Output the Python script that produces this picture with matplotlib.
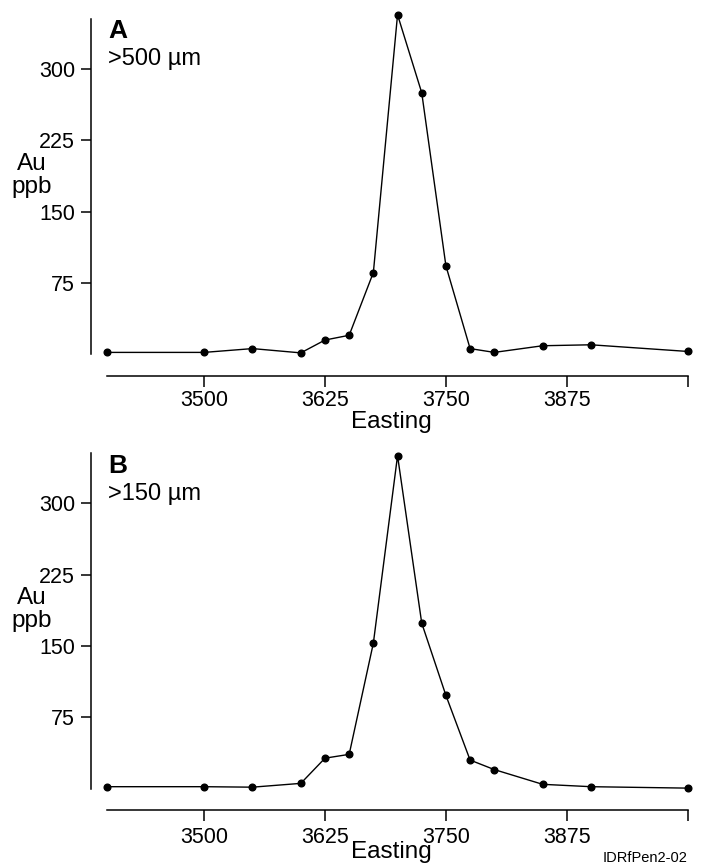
import matplotlib.pyplot as plt

# Easting stations (same for both panels)
easting = [3400, 3500, 3550, 3600, 3625, 3650, 3675, 3700, 3725, 3750, 3775, 3800, 3850, 3900, 4000]

# Au ppb, >500 um fraction (panel A)
au_500 = [2, 2, 6, 1.5, 15, 20, 86, 357, 275, 93, 6, 2, 9, 10, 3]
# Au ppb, >150 um fraction (panel B)
au_150 = [2, 2, 1.5, 5.5, 32, 36, 153, 350, 174, 98, 30, 20, 4.5, 2, 0.5]

x_ticks = [3500, 3625, 3750, 3875, 4000]
x_ticklabels = ['3500', '3625', '3750', '3875', '']
y_ticks = [75, 150, 225, 300]
y_ticklabels = ['75', '150', '225', '300']

panels = [('A', '>500 \u00b5m', au_500), ('B', '>150 \u00b5m', au_150)]

W, H = 701, 868


def fx(px):
    return px / W


def fy(py):
    return 1 - py / H


def make_plot():
    plt.rcParams['font.family'] = ['Liberation Sans', 'DejaVu Sans']

    fig = plt.figure(figsize=(W / 100, H / 100), dpi=100)

    # pixel bottom of each axes (where the x axis line sits)
    axis_bottoms = [375.7, 810]
    tick_pads = [2.0, 4.5]
    easting_baselines = [428, 858]
    ax_h = 367.6

    for (letter, frac, vals), bot, tpad, ebase in zip(panels, axis_bottoms, tick_pads, easting_baselines):
        ax = fig.add_axes([fx(91), fy(bot), (692 - 91) / W, ax_h / H])
        ax.plot(easting, vals, color='black', lw=1.0, marker='o', ms=4.8,
                clip_on=False, zorder=3)

        ax.set_xlim(3383.1, 4004.4)
        ax.set_ylim(-22.5, 364)

        for s in ['top', 'right']:
            ax.spines[s].set_visible(False)
        ax.spines['left'].set_bounds(0, 353)
        ax.spines['bottom'].set_bounds(3400, 4000)
        ax.spines['left'].set_linewidth(1.1)
        ax.spines['bottom'].set_linewidth(1.1)

        ax.set_xticks(x_ticks)
        ax.set_xticklabels(x_ticklabels)
        ax.set_yticks(y_ticks)
        ax.set_yticklabels(y_ticklabels)
        ax.tick_params(axis='x', direction='out', length=8, width=1.1, pad=tpad, labelsize=15.5)
        ax.tick_params(axis='y', direction='out', length=7.2, width=1.1, pad=4.3, labelsize=15.5)

        # panel letter and size fraction
        top_off = bot - 375.7
        fig.text(fx(108), fy(38.3 + top_off), letter, fontsize=19, fontweight='bold',
                 ha='left', va='baseline')
        fig.text(fx(108), fy(65.5 + top_off), frac, fontsize=17, ha='left', va='baseline')

        # y axis label (two lines)
        fig.text(fx(32), fy(170 + top_off), 'Au', fontsize=17.5, ha='center', va='baseline')
        fig.text(fx(32), fy(193 + top_off), 'ppb', fontsize=17.5, ha='center', va='baseline')

        fig.text(fx(391), fy(ebase), 'Easting', fontsize=17.5, ha='center', va='baseline')

    fig.text(fx(688), fy(862), 'IDRfPen2-02', fontsize=10.5,
             family=['Liberation Sans Narrow', 'Liberation Sans', 'DejaVu Sans'],
             ha='right', va='baseline')

    fig.savefig('out.png', dpi=100)


if __name__ == "__main__":
    make_plot()
